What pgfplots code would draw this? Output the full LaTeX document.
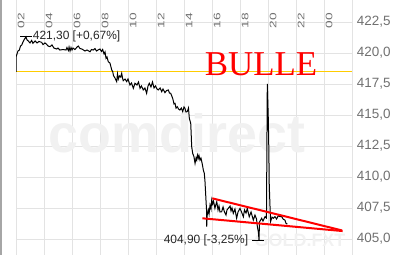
\documentclass[border=0pt]{standalone}
\usepackage{fontspec}
\setmainfont{Liberation Sans}
\newfontfamily\bullefont{Liberation Serif}
\newfontfamily\xlabfont[FakeStretch=1.45]{Liberation Sans}
\usepackage{pgfplots}
\usepackage{pgfplotstable}
\pgfplotsset{compat=1.18}
\definecolor{gridc}{HTML}{E3E3E3}
\definecolor{labc}{HTML}{707070}
\definecolor{goldline}{HTML}{FFCC00}
\definecolor{wm}{HTML}{F1F1F1}

\pgfplotstableread{
h v
2.00 418.47
2.00 419.68
2.07 419.92
2.14 420.16
2.24 420.24
2.32 420.56
2.41 420.64
2.50 420.89
2.57 421.05
2.71 421.30
2.79 421.05
2.88 420.97
3.00 420.81
3.12 421.01
3.21 420.78
3.36 420.97
3.50 420.81
3.64 420.93
3.83 420.86
3.93 420.68
4.07 420.81
4.19 420.70
4.29 420.56
4.43 420.51
4.57 420.65
4.71 420.40
4.91 420.32
5.00 420.40
5.14 420.24
5.36 420.28
5.57 420.24
5.64 420.44
5.74 420.20
5.79 420.48
5.86 420.16
5.93 420.44
6.00 420.24
6.07 420.40
6.21 420.28
6.36 420.48
6.45 420.56
6.57 420.36
6.71 420.32
6.93 420.16
7.07 420.24
7.29 420.10
7.39 420.28
7.52 420.24
7.64 420.36
7.75 420.16
7.86 420.24
8.00 420.32
8.11 420.12
8.19 420.28
8.29 419.92
8.36 420.08
8.43 419.57
8.50 419.68
8.59 419.30
8.71 419.19
8.84 418.63
8.91 418.49
8.96 418.19
9.07 417.98
9.19 417.69
9.25 418.31
9.31 417.90
9.39 418.15
9.48 418.06
9.55 418.36
9.61 417.98
9.66 417.77
9.79 417.90
9.91 417.69
10.00 417.90
10.14 417.42
10.25 417.58
10.38 417.15
10.50 417.56
10.64 417.42
10.75 417.66
10.86 417.15
10.96 417.34
11.09 417.02
11.21 417.18
11.33 416.75
11.43 417.34
11.52 417.56
11.64 417.26
11.75 417.66
11.86 417.18
11.96 417.34
12.07 417.10
12.16 417.02
12.29 417.18
12.41 416.88
12.50 417.10
12.64 416.80
12.75 416.97
12.88 417.02
12.96 416.77
13.05 416.75
13.19 416.35
13.29 415.89
13.36 415.94
13.43 415.56
13.52 415.67
13.61 415.48
13.71 415.40
13.81 415.56
13.91 415.27
14.00 415.65
14.07 415.54
14.14 415.24
14.23 415.27
14.32 415.56
14.38 414.73
14.48 414.33
14.51 413.55
14.55 412.44
14.62 411.91
14.71 411.64
14.79 411.10
14.86 411.53
14.91 411.37
14.96 411.77
15.02 411.51
15.07 411.73
15.14 411.37
15.21 411.53
15.29 411.13
15.34 410.83
15.38 410.56
15.45 410.30
15.50 409.62
15.54 408.79
15.57 408.14
15.61 407.34
15.62 405.99
15.66 406.93
15.74 407.34
15.79 407.02
15.86 407.74
15.93 407.42
15.98 408.14
16.04 407.82
16.11 408.06
16.21 407.47
16.29 407.82
16.34 408.01
16.43 407.34
16.50 407.66
16.57 407.18
16.69 407.20
16.79 407.58
16.89 407.18
17.00 406.93
17.07 407.34
17.16 407.47
17.29 407.66
17.36 407.26
17.43 407.50
17.52 407.07
17.64 407.42
17.76 406.67
17.86 407.18
18.00 407.47
18.11 407.18
18.24 406.79
18.32 407.34
18.43 407.09
18.52 407.47
18.66 406.79
18.79 407.18
18.95 406.53
19.07 406.93
19.18 406.61
19.24 405.99
19.31 405.59
19.36 404.90
19.39 406.37
19.55 406.67
19.64 406.45
19.79 406.80
19.89 406.69
19.95 417.50
20.02 414.76
20.06 412.18
20.09 409.34
20.14 407.74
20.18 406.39
20.29 406.77
20.38 406.67
20.50 406.80
20.61 406.61
20.74 406.88
20.86 406.80
20.98 406.80
21.09 406.59
21.21 406.53
21.29 406.26
21.38 406.20
}\gold

\begin{document}
\begin{tikzpicture}[x=1bp,y=1bp]
\path[use as bounding box] (0,0) rectangle (400,255);
\fill[gray!70] (0,0) rectangle (2,255);
\begin{axis}[
  at={(16bp,0bp)}, anchor=south west,
  scale only axis, width=336bp, height=255bp,
  xmin=2, xmax=26, ymin=403.71, ymax=424.274,
  axis line style={draw=none},
  major tick length=0pt,
  xtick={2,4,...,26},
  xticklabels={02,04,06,08,10,12,14,16,18,20,22,00,{}},
  xticklabel pos=right,
  xticklabel style={xshift=5bp, yshift=-13bp, rotate=90, anchor=east, inner sep=0pt,
     font=\xlabfont\fontsize{9.5}{10}\selectfont, text=labc},
  ytick={405,407.5,410,412.5,415,417.5,420,422.5},
  yticklabels={{405,0},{407,5},{410,0},{412,5},{415,0},{417,5},{420,0},{422,5}},
  yticklabel pos=right,
  yticklabel style={anchor=west, inner sep=0pt, xshift=4.7bp,
     font=\fontsize{13.5}{14}\selectfont, text=labc},
  grid=major,
  grid style={gridc, line width=0.9bp},
]
\node[font=\bfseries\fontsize{54}{54}\selectfont, text=wm] at (axis cs:13.5,413.55) {comdirect};
\node[inner sep=0pt, font=\bfseries\fontsize{18}{18}\selectfont, text=wm] at (axis cs:22.29,404.92) {GOLD.FXT};
\addplot[goldline, line width=1bp] coordinates {(2,418.49) (26,418.49)};
\addplot[black, line width=1bp] table[x=h, y=v] {\gold};
\addplot[red, line width=2bp] coordinates {(16.02,408.28) (25.29,405.69)};
\addplot[red, line width=2bp] coordinates {(15.31,406.67) (25.33,405.64)};
\addplot[black, line width=0.9bp] coordinates {(2.29,421.30) (3.14,421.30)};
\addplot[black, line width=0.9bp] coordinates {(18.89,404.90) (19.71,404.90)};
\node[anchor=west, inner sep=0pt, font=\fontsize{12}{12}\selectfont, text=black!85] at (axis cs:3.19,421.30) {421,30 [+0,67\%]};
\node[anchor=east, inner sep=0pt, font=\fontsize{12}{12}\selectfont, text=black!85] at (axis cs:18.6,404.90) {404,90 [-3,25\%]};
\node[font=\bullefont\fontsize{35}{35}\selectfont, text=red] at (axis cs:19.5,419.11) {BULLE};
\end{axis}
\end{tikzpicture}
\end{document}
